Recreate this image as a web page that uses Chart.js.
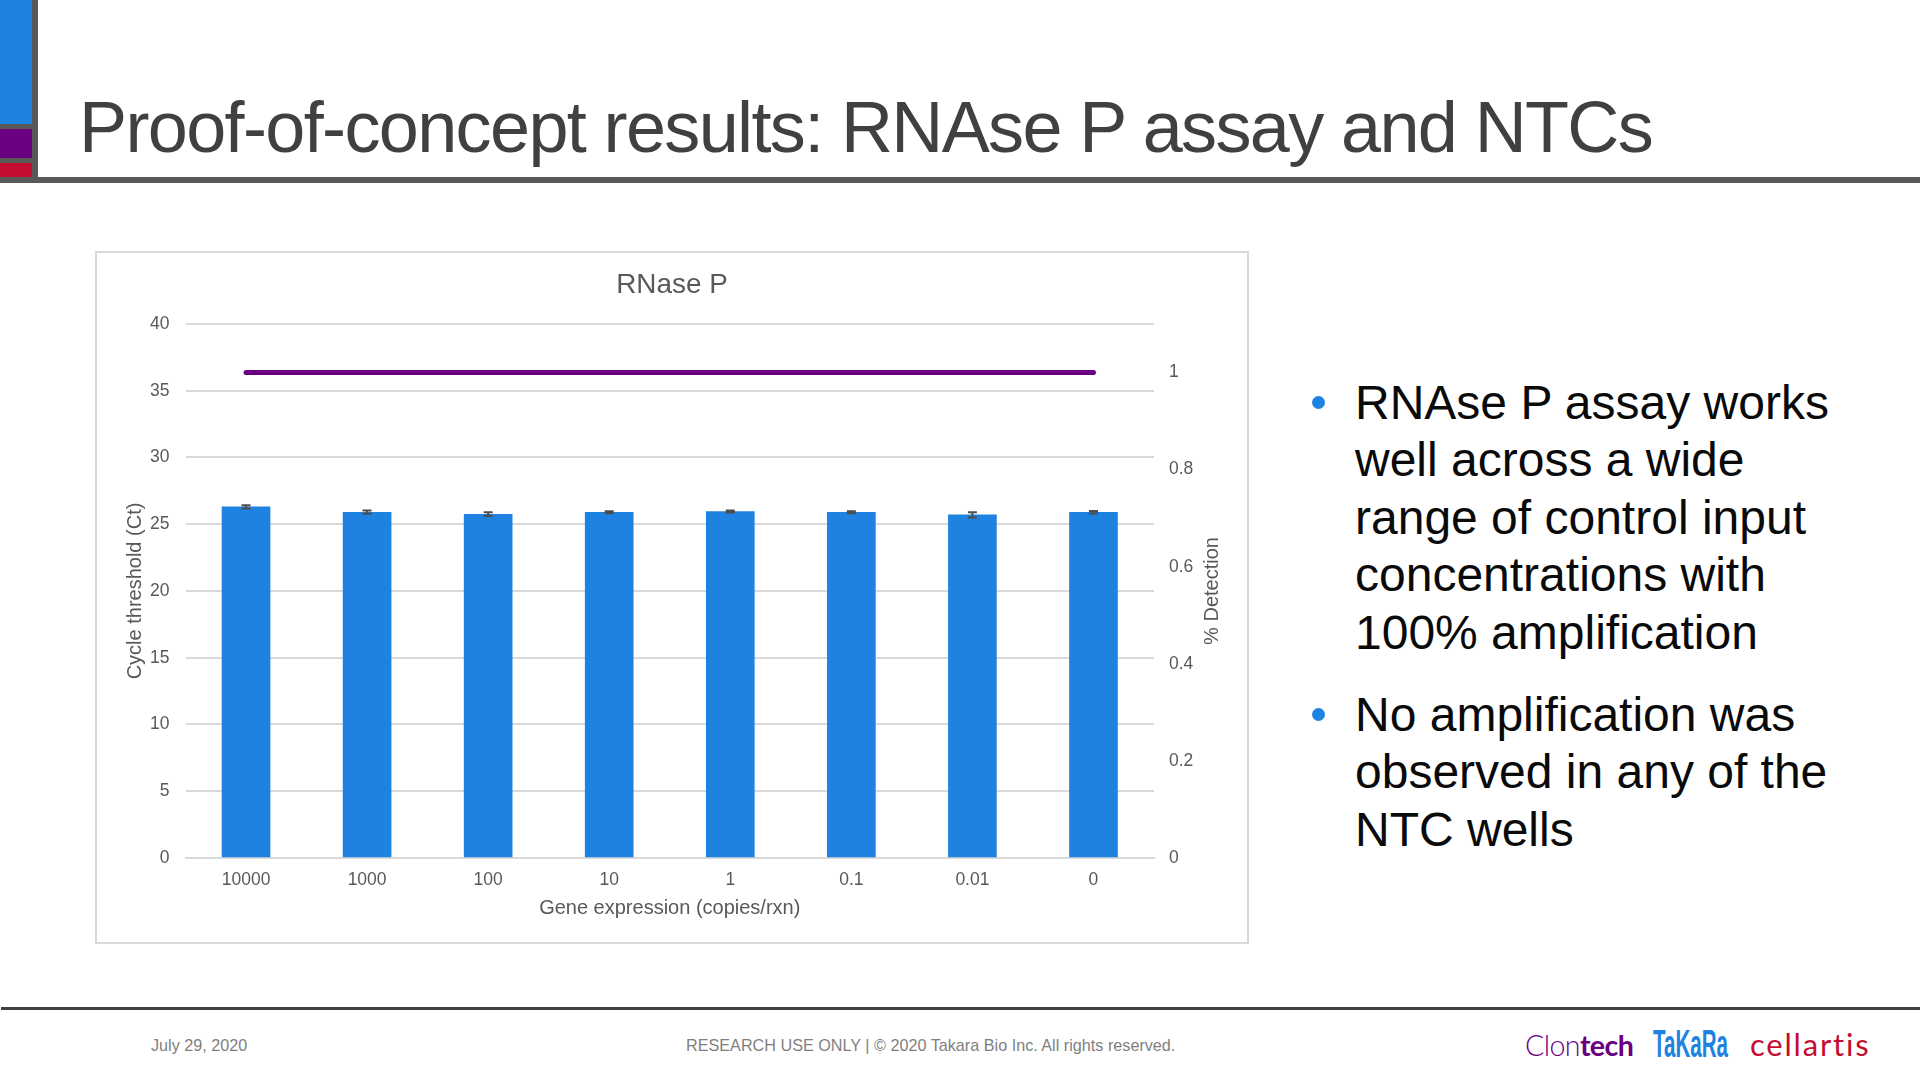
<!DOCTYPE html>
<html><head><meta charset="utf-8">
<style>
html,body{margin:0;padding:0;background:#fff;width:1920px;height:1080px;overflow:hidden;font-family:"Liberation Sans",Arial,sans-serif}
.abs{position:absolute}
#title{left:79px;top:83px;font-size:72px;line-height:88px;color:#404040;white-space:nowrap;letter-spacing:-1.63px}
#frame{left:95px;top:251px;width:1154px;height:693px;border:2px solid #d9d9d9;box-sizing:border-box}
#c{left:96px;top:253px;display:block}
.b{left:1355px;width:540px;font-size:48px;line-height:57.4px;color:#0a0a0a;white-space:nowrap}
.dot{width:13px;height:13px;border-radius:50%;background:#1e82e0}
.foot{font-size:16.2px;color:#7f7f7f;white-space:nowrap;line-height:20px}
</style></head><body>
<div class="abs" style="left:0;top:0;width:32px;height:124px;background:#1e82e0"></div>
<div class="abs" style="left:0;top:129px;width:32px;height:29px;background:#6a0080"></div>
<div class="abs" style="left:0;top:163px;width:32px;height:14px;background:#c60c30"></div>
<div class="abs" style="left:32px;top:0;width:6px;height:177px;background:#595959"></div>
<div class="abs" style="left:0;top:124px;width:32px;height:5px;background:#595959"></div>
<div class="abs" style="left:0;top:158px;width:32px;height:5px;background:#595959"></div>
<div class="abs" style="left:0;top:177px;width:1920px;height:6px;background:#595959"></div>
<div class="abs" id="title">Proof-of-concept results: RNAse P assay and NTCs</div>
<div class="abs" id="frame"></div>
<canvas class="abs" id="c" width="1152" height="690" style="width:1152px;height:690px"></canvas>
<div class="abs dot" style="left:1312px;top:396px"></div>
<div class="abs b" style="top:374px">RNAse P assay works<br>well across a wide<br>range of control input<br>concentrations with<br>100% amplification</div>
<div class="abs dot" style="left:1312px;top:708px"></div>
<div class="abs b" style="top:686px">No amplification was<br>observed in any of the<br>NTC wells</div>
<div class="abs" style="left:1px;top:1007px;width:1919px;height:3px;background:#404040"></div>
<div class="abs foot" style="left:151px;top:1034.5px">July 29, 2020</div>
<div class="abs foot" style="left:686px;top:1034.5px">RESEARCH USE ONLY | © 2020 Takara Bio Inc. All rights reserved.</div>
<div class="abs" style="left:1525px;top:1028px;font-family:Lato;font-size:28.6px;line-height:34px;color:#6a0080;letter-spacing:-0.6px;white-space:nowrap"><span style="font-weight:300">Clon</span><span style="font-weight:700">tech</span></div>
<div class="abs" style="left:1653px;top:1022px;font-weight:700;font-size:38px;line-height:44px;color:#1e82e0;white-space:nowrap;transform:scaleX(0.54);transform-origin:left center">TaKaRa</div>
<div class="abs" style="left:1750px;top:1026px;font-family:Lato;font-size:31px;line-height:36px;color:#c60c30;white-space:nowrap;letter-spacing:1.8px">cellartis</div>
<script src="https://cdn.jsdelivr.net/npm/chart.js@4"></script>
<script>
const categories=["10000","1000","100","10","1","0.1","0.01","0"];
const ctValues=[26.3,25.9,25.75,25.9,25.95,25.9,25.7,25.9];
const ctErrors=[0.13,0.12,0.14,0.08,0.08,0.08,0.2,0.1];
const detection=[1,1,1,1,1,1,1,1];
const chartTitle="RNase P";
const xTitle="Gene expression (copies/rxn)";
const yTitle="Cycle threshold (Ct)";
const y1Title="% Detection";
const gray="#595959";
const errorBars={id:"errorBars",afterDatasetsDraw(ch){
  const {ctx}=ch,y=ch.scales.y,m=ch.getDatasetMeta(1);
  ctx.save();ctx.strokeStyle="#4d4d4d";ctx.lineWidth=2;
  m.data.forEach((b,i)=>{
    const hi=y.getPixelForValue(ctValues[i]+ctErrors[i]),lo=y.getPixelForValue(ctValues[i]-ctErrors[i]),x=b.x;
    ctx.beginPath();ctx.moveTo(x,hi);ctx.lineTo(x,lo);
    ctx.moveTo(x-4.5,hi);ctx.lineTo(x+4.5,hi);ctx.moveTo(x-4.5,lo);ctx.lineTo(x+4.5,lo);ctx.stroke();
  });ctx.restore();
}};
const rightTitle={id:"rightTitle",afterDraw(ch){
  const {ctx}=ch,a=ch.chartArea;
  ctx.save();ctx.translate(a.right+58,(a.top+a.bottom)/2);ctx.rotate(-Math.PI/2);
  ctx.font='20px "Liberation Sans"';ctx.fillStyle=gray;ctx.textAlign="center";ctx.textBaseline="middle";
  ctx.fillText(y1Title,0,0);ctx.restore();
}};
new Chart(document.getElementById("c"),{
 data:{labels:categories,datasets:[
  {type:"line",label:"% Detection",data:detection,yAxisID:"y1",borderColor:"#6a0080",borderWidth:5,pointRadius:0,borderCapStyle:"round",order:0},
  {type:"bar",label:"Ct",data:ctValues,yAxisID:"y",backgroundColor:"#1e82e0",barThickness:48,order:1}
 ]},
 plugins:[errorBars,rightTitle],
 options:{responsive:false,animation:false,
  layout:{padding:0},
  plugins:{legend:{display:false},tooltip:{enabled:false},
   title:{display:true,text:chartTitle,color:gray,font:{family:"Liberation Sans",size:27.9,weight:"normal"},padding:{top:16,bottom:21.5}}},
  scales:{
   x:{grid:{display:false},border:{color:"#d9d9d9",width:2},
      ticks:{color:gray,font:{family:"Liberation Sans",size:17.5},padding:4,maxRotation:0,autoSkip:false},
      title:{display:true,text:xTitle,color:gray,font:{family:"Liberation Sans",size:20},padding:{top:3,bottom:23}},
      afterFit(s){s.height=85}},
   y:{position:"left",min:0,max:40,ticks:{stepSize:5,color:gray,font:{family:"Liberation Sans",size:17.5},padding:16},
      grid:{color:"#d9d9d9",lineWidth:2,drawTicks:false},border:{display:false},
      title:{display:true,text:yTitle,color:gray,font:{family:"Liberation Sans",size:20},padding:{top:27,bottom:4}},
      afterFit(s){s.width=89.5}},
   y1:{position:"right",min:0,max:1.1,ticks:{stepSize:0.2,includeBounds:false,color:gray,font:{family:"Liberation Sans",size:17.5},padding:15,
        callback:v=>+v.toFixed(1)},
      grid:{drawOnChartArea:false,drawTicks:false},border:{display:false},
      afterFit(s){s.width=94}}
  }
 }
});
</script>
</body></html>
